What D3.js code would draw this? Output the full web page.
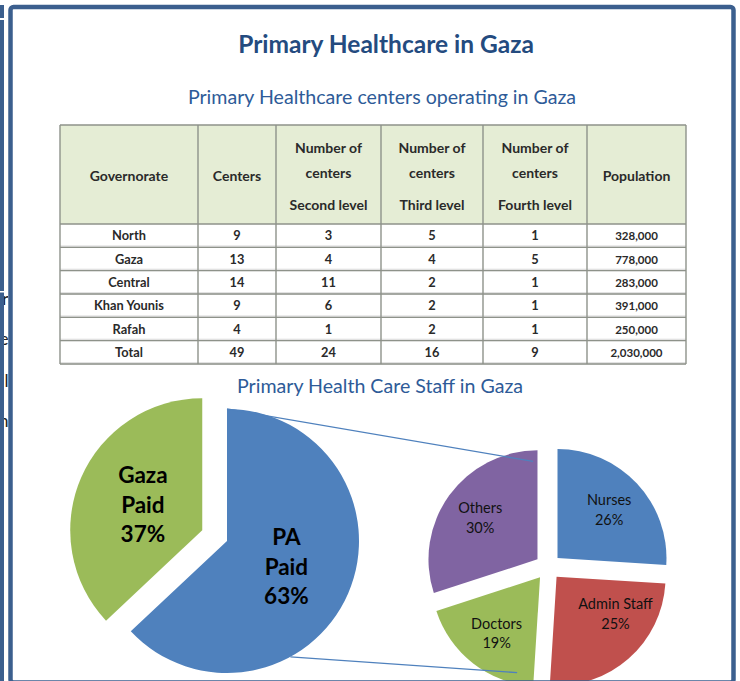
<!DOCTYPE html>
<html>
<head>
<meta charset="utf-8">
<script src="https://cdn.jsdelivr.net/npm/d3@7"></script>
<style>
  body { margin: 0; background: #fff; }
  svg { display: block; font-family: Lato, "Open Sans", sans-serif; }
</style>
</head>
<body>
<div id="chart"></div>
<script>
// ---- table data ----
const headerLines = [
    ['Governorate'],
    ['Centers'],
    ['Number of', 'centers', 'Second level'],
    ['Number of', 'centers', 'Third level'],
    ['Number of', 'centers', 'Fourth level'],
    ['Population']
];
const governorates = ['North', 'Gaza', 'Central', 'Khan Younis', 'Rafah', 'Total'];
const centers = [9, 13, 14, 9, 4, 49];
const secondLevel = [3, 4, 11, 6, 1, 24];
const thirdLevel = [5, 4, 2, 2, 2, 16];
const fourthLevel = [1, 5, 1, 1, 1, 9];
const population = [328000, 778000, 283000, 391000, 250000, 2030000];

// ---- pie data ----
const payLabels = ['PA Paid', 'Gaza Paid'];
const payValues = [63, 37];
const staffLabels = ['Nurses', 'Admin Staff', 'Doctors', 'Others'];
const staffValues = [26, 25, 19, 30];

// ---- text ----
const title = 'Primary Healthcare in Gaza';
const tableTitle = 'Primary Healthcare centers operating in Gaza';
const pieTitle = 'Primary Health Care Staff in Gaza';

const W = 740, H = 681;
const FRAME = '#3b5f8e';
const TITLE_BLUE = '#244b7f';
const SUB_BLUE = '#2e5b98';

const svg = d3.select('#chart').append('svg')
    .attr('width', W)
    .attr('height', H);

// left strip from the neighbouring slide
const $strip = svg.append('g').attr('class', 'g-strip');
$strip.append('rect').attr('x', 0).attr('y', 5).attr('width', 4).attr('height', 13).attr('fill', FRAME);
$strip.append('rect').attr('x', 0).attr('y', 20).attr('width', 4).attr('height', H - 20).attr('fill', FRAME);
$strip.append('rect').attr('x', 0).attr('y', 291).attr('width', 8).attr('height', 1.5).attr('fill', '#fff');
svg.append('clipPath').attr('id', 'stripclip')
    .append('rect').attr('x', 4).attr('y', 0).attr('width', 4).attr('height', H);
$strip.append('g').attr('clip-path', 'url(#stripclip)')
    .selectAll('text')
    .data([['r', 305], ['e', 345], ['l', 387], ['n', 427]])
    .join('text')
    .attr('x', 8.5)
    .attr('y', d => d[1])
    .attr('text-anchor', 'end')
    .attr('font-size', 17)
    .attr('fill', '#222')
    .text(d => d[0]);

// titles
svg.append('text')
    .attr('x', 386).attr('y', 53)
    .attr('text-anchor', 'middle')
    .attr('font-size', 24.5)
    .attr('font-weight', 'bold')
    .attr('fill', TITLE_BLUE)
    .text(title);

svg.append('text')
    .attr('x', 382).attr('y', 104)
    .attr('text-anchor', 'middle')
    .attr('font-size', 19.6)
    .attr('fill', SUB_BLUE)
    .text(tableTitle);

// ---- table ----
const colEdges = [60, 198, 276, 381, 483, 587, 686];
const headTop = 125, headBottom = 224, tableBottom = 364;
const fmt = d3.format(',');
const rows = governorates.map((g, i) => [
    g, centers[i], secondLevel[i], thirdLevel[i], fourthLevel[i], fmt(population[i])
]);

const y = d3.scaleBand()
    .domain(governorates)
    .range([headBottom, tableBottom]);
const colMid = i => (colEdges[i] + colEdges[i + 1]) / 2;

const $table = svg.append('g').attr('class', 'g-table');
$table.append('rect')
    .attr('x', colEdges[0]).attr('y', headTop)
    .attr('width', colEdges[6] - colEdges[0])
    .attr('height', headBottom - headTop)
    .attr('fill', '#e5edd5');

// shadow lines under each row
$table.selectAll('.row-shade')
    .data(governorates)
    .join('rect')
    .attr('class', 'row-shade')
    .attr('x', colEdges[0])
    .attr('y', d => y(d) + y.bandwidth() - 2)
    .attr('width', colEdges[6] - colEdges[0])
    .attr('height', 2.5)
    .attr('fill', '#e2e2e2');

$table.selectAll('.hline')
    .data([headTop, headBottom].concat(governorates.map(d => y(d) + y.bandwidth())))
    .join('line')
    .attr('class', 'hline')
    .attr('x1', colEdges[0]).attr('x2', colEdges[6])
    .attr('y1', d => d).attr('y2', d => d)
    .attr('stroke', '#8e928a')
    .attr('stroke-width', 1.4);

$table.selectAll('.vline')
    .data(colEdges)
    .join('line')
    .attr('class', 'vline')
    .attr('x1', d => d).attr('x2', d => d)
    .attr('y1', headTop).attr('y2', tableBottom)
    .attr('stroke', '#8e928a')
    .attr('stroke-width', 1.4);

const headerY = [[181], [181], [153, 178, 210], [153, 178, 210], [153, 178, 210], [181]];
headerLines.forEach((lines, ci) => {
    $table.append('g').selectAll('text')
        .data(lines)
        .join('text')
        .attr('x', colMid(ci))
        .attr('y', (d, li) => headerY[ci][li])
        .attr('text-anchor', 'middle')
        .attr('font-size', 14)
        .attr('font-weight', 'bold')
        .attr('fill', '#2a2a2a')
        .text(d => d);
});

$table.selectAll('.row')
    .data(rows)
    .join('g')
    .attr('class', 'row')
    .attr('transform', (d, i) => `translate(0, ${y(governorates[i]) + y.bandwidth() / 2 + 4.5})`)
    .selectAll('text')
    .data(d => d)
    .join('text')
    .attr('x', (d, ci) => colMid(ci))
    .attr('text-anchor', 'middle')
    .attr('font-size', (d, ci) => ci === 5 ? 11.5 : 12.8)
    .attr('font-weight', 'bold')
    .attr('fill', '#2a2a2a')
    .text(d => d);

// ---- pies ----
svg.append('text')
    .attr('x', 380).attr('y', 393)
    .attr('text-anchor', 'middle')
    .attr('font-size', 19.6)
    .attr('fill', SUB_BLUE)
    .text(pieTitle);

const pie = d3.pie().sort(null).value(d => d.value);
const pt = (cx, cy, a, r) => [cx + r * Math.sin(a), cy - r * Math.cos(a)];

// main pie
const mainC = { x: 227, y: 541, r: 132 };
const mainColors = ['#4f81bd', '#9bbb59'];
const mainExplode = [0, 27];
const mainArcs = pie(payLabels.map((l, i) => ({ label: l, value: payValues[i] })));
const mainArc = d3.arc().innerRadius(0).outerRadius(mainC.r);

const $main = svg.append('g').attr('class', 'g-main');
const mainSlices = $main.selectAll('.slice')
    .data(mainArcs)
    .join('g')
    .attr('class', 'slice')
    .attr('transform', (d, i) => {
        const mid = (d.startAngle + d.endAngle) / 2;
        const [x, yy] = pt(mainC.x, mainC.y, mid, mainExplode[i]);
        return `translate(${x}, ${yy})`;
    });
mainSlices.append('path')
    .attr('d', mainArc)
    .attr('fill', (d, i) => mainColors[i]);
mainSlices.append('g')
    .attr('transform', d => {
        const mid = (d.startAngle + d.endAngle) / 2;
        const [x, yy] = pt(0, 0, mid, mainC.r * 0.49);
        return `translate(${x}, ${yy})`;
    })
    .selectAll('text')
    .data(d => d.data.label.split(' ').concat([d.data.value + '%']))
    .join('text')
    .attr('y', (d, i) => (i - 1) * 29.5 + 8)
    .attr('text-anchor', 'middle')
    .attr('font-size', 22.5)
    .attr('font-weight', 'bold')
    .attr('fill', '#000')
    .text(d => d);

// secondary pie
const subC = { x: 548, y: 567, r: 109 };
const subColors = ['#4f81bd', '#c0504d', '#9bbb59', '#8064a2'];
const subExplode = 13;
const labelNudge = [[0, 0], [12, -16], [0, 0], [0, 0]];
const subArcs = pie(staffLabels.map((l, i) => ({ label: l, value: staffValues[i] })));
const subArc = d3.arc().innerRadius(0).outerRadius(subC.r);

// connector lines between the pies
const connectors = [
    { a0: 0, r0: 1, slice: 3, a1: 357.4, f1: 0.9 },
    { a0: 151.3, r0: 1, slice: 2, a1: 193.5, f1: 0.9 }
];
const rad = deg => deg * Math.PI / 180;
const sliceCenter = i => {
    const d = subArcs[i];
    return pt(subC.x, subC.y, (d.startAngle + d.endAngle) / 2, subExplode);
};

const $sub = svg.append('g').attr('class', 'g-sub');
const subSlices = $sub.selectAll('.slice')
    .data(subArcs)
    .join('g')
    .attr('class', 'slice')
    .attr('transform', (d, i) => `translate(${sliceCenter(i)})`);
subSlices.append('path')
    .attr('d', subArc)
    .attr('fill', (d, i) => subColors[i]);
subSlices.append('g')
    .attr('transform', (d, i) => {
        const mid = (d.startAngle + d.endAngle) / 2;
        const [x, yy] = pt(0, 0, mid, subC.r * 0.65);
        return `translate(${x + labelNudge[i][0]}, ${yy + labelNudge[i][1]})`;
    })
    .selectAll('text')
    .data(d => [d.data.label, d.data.value + '%'])
    .join('text')
    .attr('y', (d, i) => i === 0 ? -4.5 : 15)
    .attr('text-anchor', 'middle')
    .attr('font-size', 14.5)
    .attr('fill', '#111')
    .text(d => d);

svg.append('g').attr('class', 'g-connectors')
    .selectAll('line')
    .data(connectors)
    .join('line')
    .attr('x1', d => pt(mainC.x, mainC.y, rad(d.a0), mainC.r * d.r0)[0])
    .attr('y1', d => pt(mainC.x, mainC.y, rad(d.a0), mainC.r * d.r0)[1])
    .attr('x2', d => { const c = sliceCenter(d.slice); return pt(c[0], c[1], rad(d.a1), subC.r * d.f1)[0]; })
    .attr('y2', d => { const c = sliceCenter(d.slice); return pt(c[0], c[1], rad(d.a1), subC.r * d.f1)[1]; })
    .attr('stroke', '#4f81bd')
    .attr('stroke-width', 1.3);

// main frame on top
svg.append('rect')
    .attr('x', 10.5).attr('y', 7)
    .attr('width', 723).attr('height', 675.5)
    .attr('rx', 3)
    .attr('fill', 'none')
    .attr('stroke', FRAME)
    .attr('stroke-width', 4.5);
</script>
</body>
</html>
